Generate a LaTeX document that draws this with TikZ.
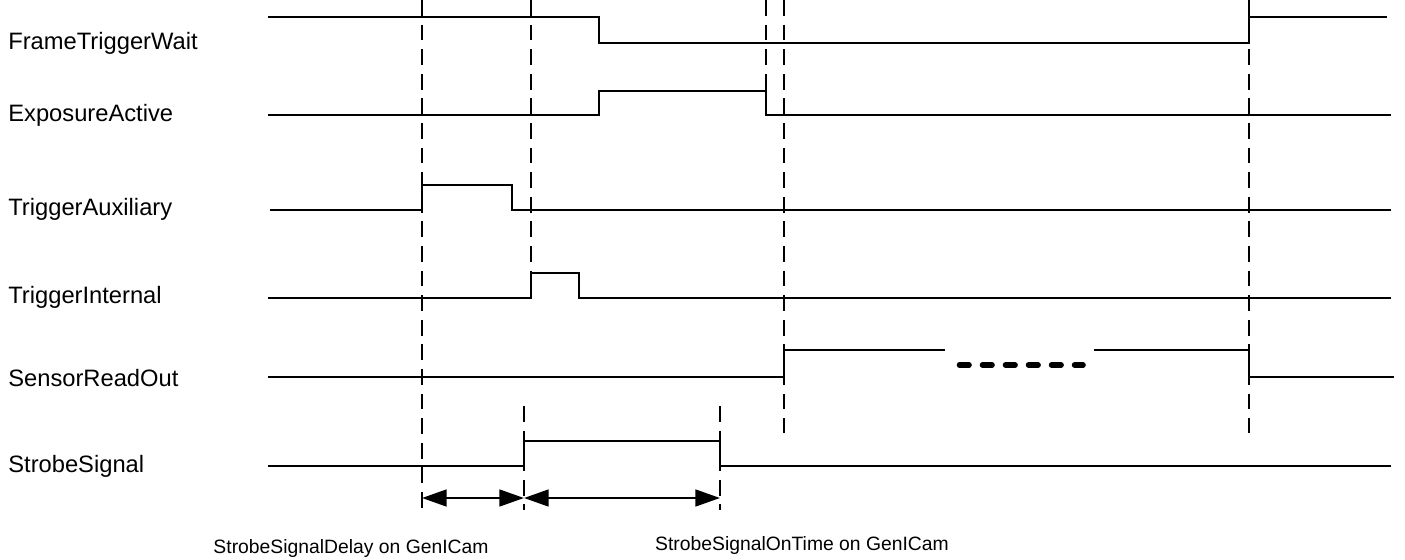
\documentclass[tikz,border=0pt]{standalone}
\usepackage{fontspec}
\setmainfont{Liberation Sans}
\usetikzlibrary{arrows.meta}

\begin{document}
\begin{tikzpicture}[x=0.02cm,y=-0.02cm,
		sig/.style={line width=0.7pt},
		guide/.style={line width=1.1pt,dash pattern=on 9pt off 5pt},
		dim/.style={line width=1.4pt,{Triangle[length=14pt,width=9.5pt]}-{Triangle[length=14pt,width=9.5pt]}},
		lbl/.style={anchor=west,inner sep=0pt,font=\fontsize{13.5}{16}\selectfont},
		note/.style={inner sep=0pt,font=\fontsize{11}{13}\selectfont}]
			\useasboundingbox (0,0) rectangle (1405,560);
			% signal names
			\node[lbl] (FTW) at (8,43) {FrameTriggerWait};
			\node[lbl] (EA) at (8,115) {ExposureActive};
			\node[lbl] (TA) at (8,209) {TriggerAuxiliary};
			\node[lbl] (TI) at (8,297) {TriggerInternal};
			\node[lbl] (SRO) at (8,378) {SensorReadOut};
			\node[lbl] (SS) at (8,466) {StrobeSignal};
			% waveforms
			\draw[sig] (268,17) -- (599,17) -- (599,43) -- (1249,43) -- (1249,17) -- (1387,17);
			\draw[sig] (268,115) -- (599,115) -- (599,91) -- (766,91) -- (766,115) -- (1391,115);
			\draw[sig] (270,210) -- (422,210) -- (422,185) -- (512,185) -- (512,210) -- (1391,210);
			\draw[sig] (268,298) -- (531,298) -- (531,273) -- (579,273) -- (579,298) -- (1391,298);
			\draw[sig] (268,377) -- (784,377) -- (784,350) -- (945,350);
			\draw[sig] (1094,350) -- (1249,350) -- (1249,377) -- (1394,377);
			\draw[line width=3.2pt,line cap=round,dash pattern=on 5.4pt off 7.7pt] (959.5,365) -- (1083,365);
			\draw[sig] (268,466) -- (524,466) -- (524,441) -- (720,441) -- (720,466) -- (1391,466);
			% timing marks
			\draw[guide] (422,0) -- (422,512);
			\draw[guide] (531,0) -- (531,299);
			\draw[guide] (766,0) -- (766,118);
			\draw[guide] (784,0) -- (784,433);
			\draw[guide] (1249,0) -- (1249,433);
			\draw[guide] (524,406) -- (524,510);
			\draw[guide] (720,406) -- (720,510);
			% strobe delay and on time
			\coordinate (d0) at (422,498);
			\coordinate (d1) at (524,498);
			\coordinate (d2) at (720,498);
			\draw[dim] (d0) -- (d1);
			\draw[dim] (d1) -- (d2);
			\node[note] (SD) at (351,548) {StrobeSignalDelay on GenICam};
			\node[note] (ST) at (802,545) {StrobeSignalOnTime on GenICam};
		\end{tikzpicture}
\end{document}
